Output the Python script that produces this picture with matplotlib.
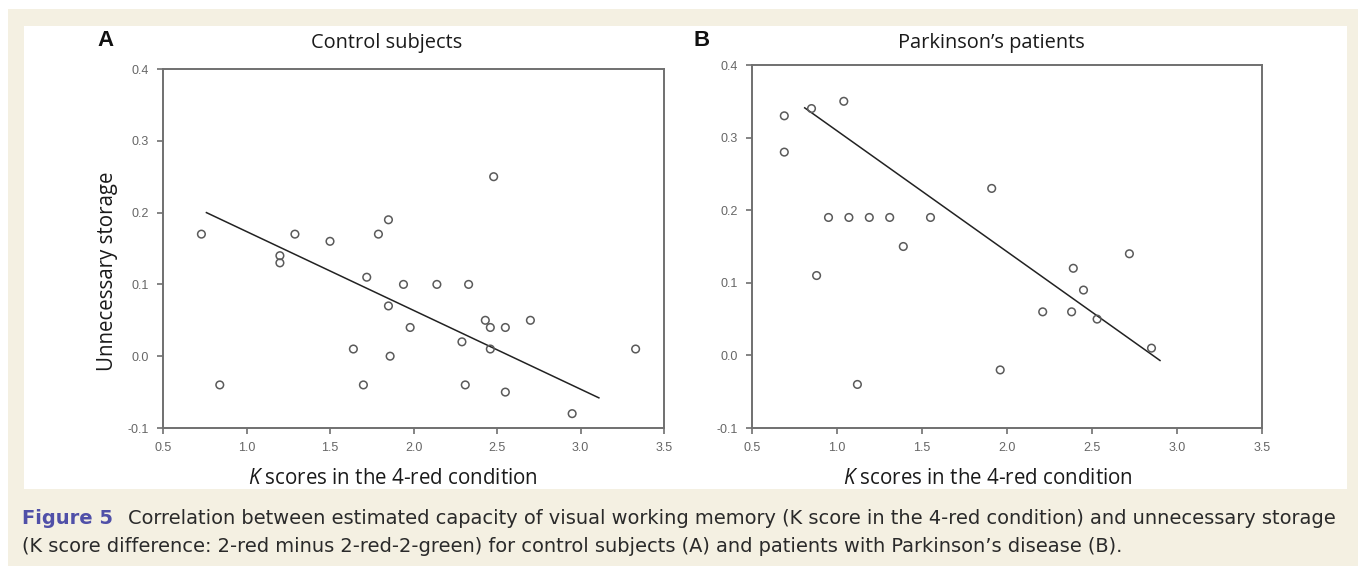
import matplotlib
matplotlib.use("Agg")
import matplotlib.pyplot as plt
from matplotlib.patches import Rectangle

plt.rcParams['mathtext.fontset'] = 'custom'
plt.rcParams['mathtext.it'] = 'Open Sans:italic'
plt.rcParams['mathtext.rm'] = 'Open Sans'

# panel A - control subjects
ctrl_k = [0.73, 0.84, 1.20, 1.20, 1.29, 1.50, 1.64, 1.70, 1.72, 1.79, 1.85, 1.85,
          1.86, 1.94, 1.98, 2.14, 2.29, 2.31, 2.33, 2.43, 2.46, 2.46, 2.48, 2.55,
          2.55, 2.70, 2.95, 3.33]
ctrl_store = [0.17, -0.04, 0.14, 0.13, 0.17, 0.16, 0.01, -0.04, 0.11, 0.17, 0.19, 0.07,
              0.00, 0.10, 0.04, 0.10, 0.02, -0.04, 0.10, 0.05, 0.04, 0.01, 0.25, 0.04,
              -0.05, 0.05, -0.08, 0.01]
ctrl_fit_x = [0.76, 3.11]
ctrl_fit_y = [0.20, -0.058]

# panel B - Parkinson's patients
pd_k = [0.69, 0.69, 0.85, 1.04, 0.95, 1.07, 1.19, 1.31, 1.55, 1.91, 1.39, 0.88,
        1.12, 1.96, 2.21, 2.39, 2.38, 2.45, 2.53, 2.72, 2.85]
pd_store = [0.33, 0.28, 0.34, 0.35, 0.19, 0.19, 0.19, 0.19, 0.19, 0.23, 0.15, 0.11,
            -0.04, -0.02, 0.06, 0.12, 0.06, 0.09, 0.05, 0.14, 0.01]
pd_fit_x = [0.81, 2.90]
pd_fit_y = [0.341, -0.007]

xticks = [0.5, 1.0, 1.5, 2.0, 2.5, 3.0, 3.5]
yticks = [-0.1, 0.0, 0.1, 0.2, 0.3, 0.4]

W, H = 1358, 566
fig = plt.figure(figsize=(W / 100, H / 100), dpi=100, facecolor='white')

beige = '#f4f0e2'
fig.patches.append(Rectangle((8 / W, 0), 1 - 8 / W, 1 - 9 / H, transform=fig.transFigure,
                             facecolor=beige, edgecolor='none', zorder=-2))
fig.patches.append(Rectangle((24 / W, 1 - 489 / H), (1347 - 24) / W, (489 - 26) / H,
                             transform=fig.transFigure, facecolor='white',
                             edgecolor='none', zorder=-1))


def px_axes(l, t, r, b):
    return fig.add_axes([l / W, 1 - b / H, (r - l) / W, (b - t) / H])


def panel(ax, kx, ky, fx, fy):
    ax.scatter(kx, ky, s=30, facecolors='none', edgecolors='#5a5a5a', linewidths=1.1,
               zorder=3)
    ax.plot(fx, fy, color='#222222', lw=1.1)
    ax.set_xlim(0.5, 3.5)
    ax.set_ylim(-0.1, 0.4)
    ax.set_xticks(xticks)
    ax.set_yticks(yticks)
    ax.set_xticklabels(['%.1f' % v for v in xticks])
    ax.set_yticklabels(['%.1f' % v for v in yticks])
    for s in ax.spines.values():
        s.set_color('#707070')
        s.set_linewidth(1.4)
    ax.tick_params(direction='out', length=4, width=1.2, color='#707070',
                   labelsize=9, labelcolor='#666666', pad=6)
    for lab in ax.get_xticklabels() + ax.get_yticklabels():
        lab.set_family('Liberation Sans')


axA = px_axes(163, 69, 664, 428)
panel(axA, ctrl_k, ctrl_store, ctrl_fit_x, ctrl_fit_y)
axB = px_axes(752, 65, 1262, 428)
panel(axB, pd_k, pd_store, pd_fit_x, pd_fit_y)

lab_font = dict(family='Open Sans', fontsize=14.8, color='#1a1a1a')
fig.text(393 / W, 1 - 478 / H, r'$K$ scores in the 4-red condition', ha='center',
         va='center', **lab_font)
fig.text(988 / W, 1 - 478 / H, r'$K$ scores in the 4-red condition', ha='center',
         va='center', **lab_font)
fig.text(108 / W, 1 - 271 / H, 'Unnecessary storage', rotation=90, ha='center',
         va='center', **lab_font)
fig.text(387 / W, 1 - 43 / H, 'Control subjects', ha='center', va='center',
         family='Open Sans', fontsize=14.4, color='#1a1a1a')
fig.text(991 / W, 1 - 43 / H, 'Parkinson\u2019s patients', ha='center', va='center',
         family='Open Sans', fontsize=14.4, color='#1a1a1a')
fig.text(106 / W, 1 - 41 / H, 'A', ha='center', va='center', family='Liberation Sans',
         fontsize=16, fontweight='bold', color='#111111')
fig.text(702 / W, 1 - 41 / H, 'B', ha='center', va='center', family='Liberation Sans',
         fontsize=16, fontweight='bold', color='#111111')

cap_font = 'DejaVu Sans'
fig.text(22 / W, 1 - 519 / H, 'Figure 5', ha='left', va='center', family=cap_font,
         fontsize=14, fontweight='bold', color='#5050a8')
fig.text(128 / W, 1 - 519 / H,
         'Correlation between estimated capacity of visual working memory (K score in the '
         '4-red condition) and unnecessary storage',
         ha='left', va='center', family=cap_font, fontsize=13.97, color='#2a2a2a')
fig.text(22 / W, 1 - 546 / H,
         '(K score difference: 2-red minus 2-red-2-green) for control subjects (A) and '
         'patients with Parkinson\u2019s disease (B).',
         ha='left', va='center', family=cap_font, fontsize=13.97, color='#2a2a2a')

fig.savefig('out.png', dpi=100, facecolor=fig.get_facecolor())
